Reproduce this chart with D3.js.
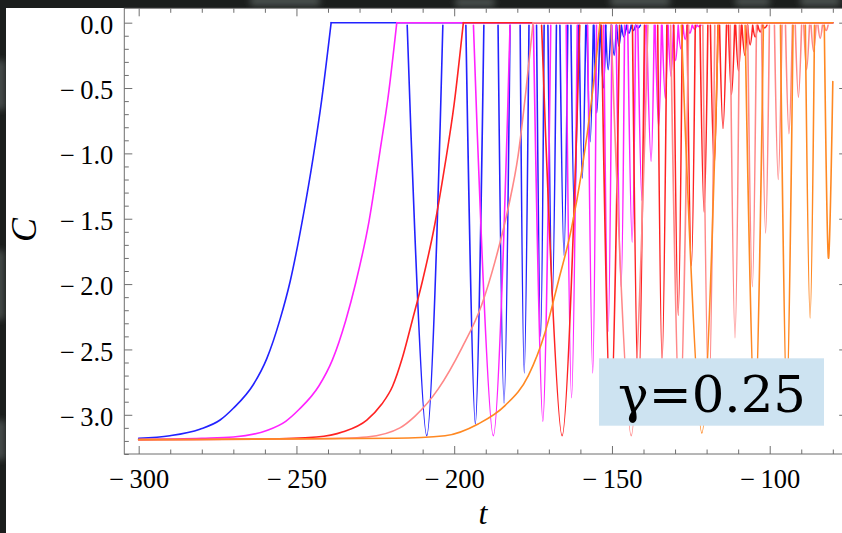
<!DOCTYPE html>
<html>
<head>
<meta charset="utf-8">
<script src="https://cdn.jsdelivr.net/npm/d3@7"></script>
<style>
  html, body { margin: 0; padding: 0; background: #1c1f1e; }
  svg { display: block; }
</style>
</head>
<body>
<svg id="chart" width="842" height="533"></svg>
<script>
// ---- data: correlation C(t) for five runs, gamma = 0.25 ----
const T_END = -80;          // last sampled time
const DIP_TOP = -0.02;      // level where each dip's branches start/end

// rising branch [t, C] up to the point where C reaches 0
const blueRise = [[-300,-3.18],[-290.1,-3.16],[-280.6,-3.11],[-274.2,-3.04],[-270.0,-2.95],[-263.7,-2.77],
  [-259.4,-2.57],[-255.2,-2.27],[-252.0,-1.98],[-247.8,-1.47],[-244.7,-1.03],[-242.0,-0.59],[-239.0,0]];
const magentaRise = [[-300,-3.19],[-280,-3.18],[-270,-3.17],[-259.4,-3.12],[-253.4,-3.05],[-249.2,-2.96],
  [-242.9,-2.78],[-238.6,-2.58],[-234.4,-2.28],[-231.2,-1.99],[-227.0,-1.52],[-223.5,-0.98],[-220.9,-0.56],[-218.2,0]];
const redRise = [[-300,-3.19],[-260,-3.185],[-243.6,-3.17],[-235.2,-3.13],[-227.7,-3.04],[-223.0,-2.92],
  [-219.5,-2.78],[-216.5,-2.57],[-213.3,-2.28],[-210.1,-1.98],[-206.2,-1.55],[-203.0,-1.10],[-200.0,-0.62],[-197.1,0]];
const pinkRise = [[-300,-3.19],[-250,-3.185],[-236,-3.18],[-227.7,-3.17],[-217.2,-3.10],[-212.4,-3.01],
  [-205.0,-2.80],[-197.6,-2.49],[-191.3,-2.16],[-187.1,-1.83],[-182.9,-1.42],[-179.7,-1.01],[-177.3,-0.53],[-175.0,0]];
const orangeRise = [[-300,-3.19],[-218.8,-3.18],[-202.9,-3.16],[-192.4,-3.07],[-183.9,-2.93],[-176.5,-2.70],
  [-171.2,-2.37],[-167.0,-1.98],[-162.8,-1.57],[-159.6,-1.14],[-156.4,-0.58],[-153.8,0]];

// dips: [t start, t of minimum, C minimum, t end, (C at end)]
const blueDips = [
  [-214.9,-208.7,-3.16,-203.6],[-196.3,-193.3,-3.07,-190.6],[-186.1,-184.2,-2.91,-182.3],
  [-179.1,-177.8,-2.68,-176.3],[-173.9,-172.6,-2.40,-171.5],[-170.3,-168.9,-2.11,-167.6],
  [-166.5,-165.2,-1.78,-164.0],[-163.0,-161.9,-1.47,-160.7],[-160.4,-159.4,-1.19,-158.3],
  [-157.9,-156.9,-0.91,-155.9],[-155.7,-154.8,-0.69,-153.8],[-153.6,-152.7,-0.50,-151.9],
  [-152.0,-151.2,-0.36,-150.3],[-150.2,-149.3,-0.25,-148.6],[-148.5,-147.8,-0.18,-147.0],
  [-147.0,-146.2,-0.11,-145.4],[-145.4,-144.6,-0.08,-143.9],[-143.9,-143.2,-0.06,-142.5],
  [-142.4,-141.7,-0.04,-141.0]];
const magentaDips = [
  [-193.9,-187.6,-3.16,-182.3],[-174.9,-171.9,-3.05,-169.4],[-164.5,-162.8,-2.87,-161.0],
  [-157.7,-156.1,-2.68,-154.9],[-152.6,-151.2,-2.36,-150.0],[-148.7,-147.1,-2.02,-146.0],
  [-145.0,-143.6,-1.68,-142.5],[-141.8,-140.5,-1.36,-139.5],[-139.0,-137.6,-1.06,-136.6],
  [-136.3,-135.2,-0.80,-134.3],[-134.1,-133.1,-0.58,-132.3],[-132.2,-131.3,-0.41,-130.5],
  [-130.6,-129.8,-0.29,-129.0],[-129.0,-128.2,-0.20,-127.5],[-127.5,-126.8,-0.13,-126.1],
  [-126.0,-125.3,-0.08,-124.6],[-124.5,-123.8,-0.05,-123.1],[-123.0,-122.4,-0.03,-121.8]];
const redDips = [
  [-172.3,-165.8,-3.16,-160.2],[-153.3,-150.4,-3.07,-147.6],[-143.5,-141.6,-2.91,-139.7],
  [-135.5,-134.1,-2.60,-132.6],[-130.4,-129.0,-2.24,-127.7],[-126.2,-124.8,-1.86,-123.6],
  [-122.1,-120.8,-1.45,-119.6],[-118.8,-117.6,-1.10,-116.4],[-115.9,-114.8,-0.81,-113.7],
  [-113.1,-112.1,-0.55,-111.1],[-110.8,-109.9,-0.37,-109.0],[-108.8,-107.9,-0.25,-107.1],
  [-107.0,-106.2,-0.17,-105.4],[-105.4,-104.6,-0.11,-103.8],[-103.8,-103.0,-0.07,-102.3],
  [-102.3,-101.6,-0.04,-100.9]];
const pinkDips = [
  [-150.3,-143.9,-3.16,-138.6],[-131.4,-128.5,-3.07,-125.7],[-121.2,-119.3,-2.91,-117.4],
  [-112.5,-111.0,-2.41,-109.6],[-107.0,-105.5,-2.02,-104.2],[-102.6,-101.3,-1.61,-100.1],
  [-98.5,-97.3,-1.20,-96.1],[-95.0,-93.9,-0.85,-92.8],[-91.9,-90.9,-0.57,-89.9],
  [-89.2,-88.3,-0.36,-87.4],[-86.9,-86.1,-0.22,-85.3],[-84.7,-84.0,-0.12,-83.3],
  [-82.8,-82.1,-0.06,-81.5]];
const orangeDips = [
  [-128.0,-121.5,-3.14,-116.3],[-107.8,-104.7,-3.07,-102.0],[-96.6,-94.6,-2.91,-92.6],
  [-88.7,-87.2,-2.26,-85.8],[-82.7,-81.4,-1.80,-80.0,-0.45]];

const xMajorTicks = [-300, -250, -200, -150, -100];
const yMajorTicks = [0, -0.5, -1.0, -1.5, -2.0, -2.5, -3.0];
const annotation = "\u03B3=0.25";

// ---- layout ----
const W = 842, H = 533;
const frame = { left: 124.3, right: 847.2, top: 8.3, bottom: 454 };

const svg = d3.select("#chart");
const defs = svg.append("defs");
defs.append("filter").attr("id", "soft")
  .attr("x", "-50%").attr("y", "-50%").attr("width", "200%").attr("height", "200%")
  .append("feGaussianBlur").attr("stdDeviation", 3);
defs.append("clipPath").attr("id", "plotClip").append("rect")
  .attr("x", frame.left).attr("y", frame.top)
  .attr("width", frame.right - frame.left).attr("height", frame.bottom - frame.top);

// dark textured backdrop
svg.append("rect").attr("width", W).attr("height", H).attr("fill", "#1b1e1d");
const haze = svg.append("g").attr("filter", "url(#soft)").attr("fill", "#4a4f4d");
[[250, -4, 70, 10], [455, -2, 40, 9], [610, -4, 60, 10], [735, -3, 35, 9], [800, -4, 40, 10],
 [-4, 60, 9, 50], [-4, 250, 8, 70], [-4, 420, 9, 40]].forEach(r => {
  haze.append("rect").attr("x", r[0]).attr("y", r[1]).attr("width", r[2]).attr("height", r[3]).attr("rx", 4);
});

// white graphic area
svg.append("rect").attr("x", 6).attr("y", 8).attr("width", W - 6).attr("height", H - 8).attr("fill", "#ffffff");

const x = d3.scaleLinear().domain([-304.56, -75.44]).range([frame.left, frame.right]);
const y = d3.scaleLinear().domain([-3.30, 0.11]).range([frame.bottom, frame.top]);

// ---- curves ----
const plot = svg.append("g").attr("clip-path", "url(#plotClip)");
const riseLine = d3.line().x(d => x(d[0])).y(d => y(d[1])).curve(d3.curveMonotoneX);
const straight = d3.line().x(d => x(d[0])).y(d => y(d[1]));
const dipLine = d3.line().x(d => x(d[0])).y(d => y(d[1])).curve(d3.curveCardinal.tension(0));

const series = [
  { rise: blueRise, dips: blueDips, color: "#2222ff" },
  { rise: magentaRise, dips: magentaDips, color: "#ff22ff" },
  { rise: redRise, dips: redDips, color: "#ff2222" },
  { rise: pinkRise, dips: pinkDips, color: "#ff8888" },
  { rise: orangeRise, dips: orangeDips, color: "#ff8822" }
];

series.forEach(s => {
  const g = plot.append("g")
    .attr("fill", "none").attr("stroke", s.color).attr("stroke-width", 1.6)
    .attr("stroke-linejoin", "round").attr("stroke-linecap", "round");
  g.append("path").attr("d", riseLine(s.rise));
  const top = s.rise[s.rise.length - 1];
  g.append("path").attr("d", straight([top, [T_END, 0]]));
  const d = s.dips.map(p => dipLine([
    [p[0], DIP_TOP],
    [p[1], p[2]],
    [p[3], p.length > 4 ? p[4] : DIP_TOP]
  ])).join("");
  g.append("path").attr("d", d);
});

// ---- frame and ticks ----
const frameColor = "#6f6f6f";
const minorX = d3.range(-300, -75, 10).filter(v => !xMajorTicks.includes(v));
const minorY = d3.range(-33, 1, 1).map(v => v / 10).filter(v => !yMajorTicks.some(m => Math.abs(m - v) < 1e-9));

const fmt = v => (v < 0 ? "\u2212\u2009" : "") + d3.format(Math.abs(v) >= 10 ? "d" : ".1f")(Math.abs(v));

function styleAxis(g) {
  g.select(".domain").remove();
  g.selectAll(".tick line").attr("stroke", frameColor).attr("stroke-width", 1);
  g.selectAll(".tick text").attr("fill", "#000")
    .attr("font-family", "'Liberation Serif', 'Times New Roman', serif").attr("font-size", 26.5);
}

// bottom
svg.append("g").attr("transform", `translate(0,${frame.bottom})`)
  .call(d3.axisBottom(x).tickValues(xMajorTicks).tickSize(-8).tickPadding(15).tickFormat(fmt)).call(styleAxis);
svg.append("g").attr("transform", `translate(0,${frame.bottom})`)
  .call(d3.axisBottom(x).tickValues(minorX).tickSize(-4.5).tickFormat("")).call(styleAxis);
// top
svg.append("g").attr("transform", `translate(0,${frame.top})`)
  .call(d3.axisTop(x).tickValues(xMajorTicks).tickSize(-8).tickFormat("")).call(styleAxis);
svg.append("g").attr("transform", `translate(0,${frame.top})`)
  .call(d3.axisTop(x).tickValues(minorX).tickSize(-4.5).tickFormat("")).call(styleAxis);
// left
const leftAxis = svg.append("g").attr("transform", `translate(${frame.left},0)`)
  .call(d3.axisLeft(y).tickValues(yMajorTicks).tickSize(-8).tickPadding(11).tickFormat(fmt)).call(styleAxis);
leftAxis.selectAll(".tick text").attr("dy", "0.4em");
svg.append("g").attr("transform", `translate(${frame.left},0)`)
  .call(d3.axisLeft(y).tickValues(minorY).tickSize(-4.5).tickFormat("")).call(styleAxis);
// right
svg.append("g").attr("transform", `translate(${frame.right},0)`)
  .call(d3.axisRight(y).tickValues(yMajorTicks).tickSize(-8).tickFormat("")).call(styleAxis);
svg.append("g").attr("transform", `translate(${frame.right},0)`)
  .call(d3.axisRight(y).tickValues(minorY).tickSize(-4.5).tickFormat("")).call(styleAxis);

svg.append("rect")
  .attr("x", frame.left).attr("y", frame.top)
  .attr("width", frame.right - frame.left).attr("height", frame.bottom - frame.top)
  .attr("fill", "none").attr("stroke", frameColor).attr("stroke-width", 1);

// axis titles
svg.append("text")
  .attr("transform", "translate(36,230) rotate(-90)")
  .attr("text-anchor", "middle")
  .attr("font-family", "'Liberation Serif', 'Times New Roman', serif")
  .attr("font-style", "italic").attr("font-size", 36).attr("fill", "#000")
  .text("C");
svg.append("text")
  .attr("x", 483).attr("y", 524)
  .attr("text-anchor", "middle")
  .attr("font-family", "'Liberation Serif', 'Times New Roman', serif")
  .attr("font-style", "italic").attr("font-size", 32).attr("fill", "#000")
  .text("t");

// parameter label
svg.append("rect")
  .attr("x", 599).attr("y", 358.3).attr("width", 225).attr("height", 67.4)
  .attr("fill", "#cde3f1");
svg.append("text")
  .attr("x", 618).attr("y", 412)
  .attr("font-family", "'DejaVu Serif', serif").attr("font-size", 50).attr("fill", "#000")
  .attr("textLength", 188).attr("lengthAdjust", "spacingAndGlyphs")
  .text(annotation);
</script>
</body>
</html>
